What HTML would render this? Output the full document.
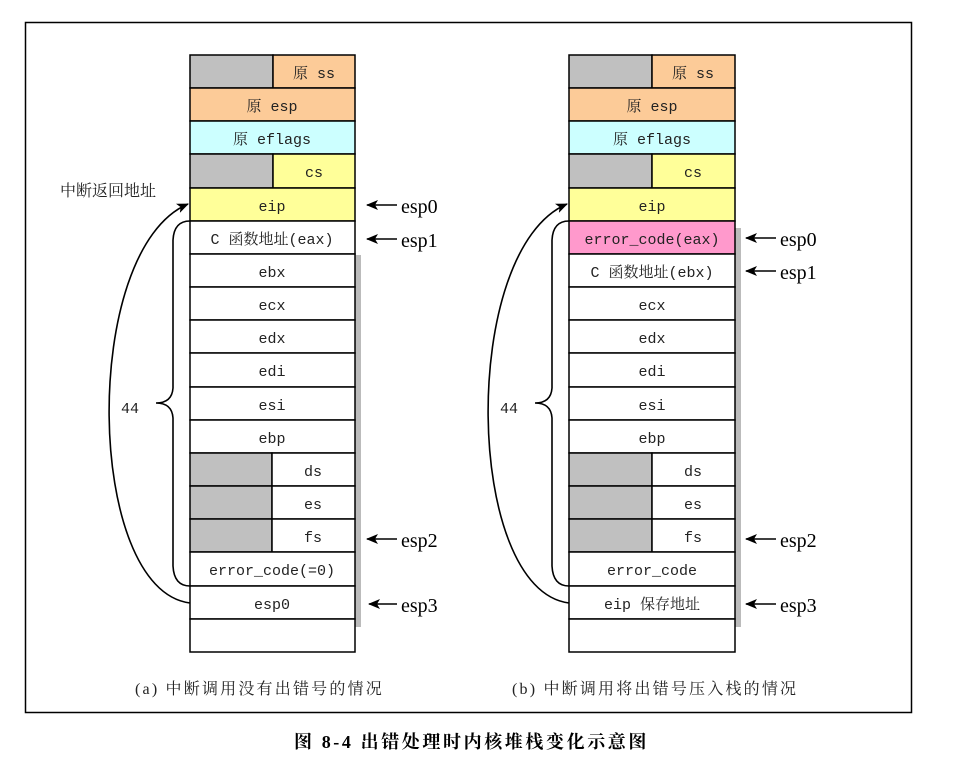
<!DOCTYPE html>
<html><head><meta charset="utf-8"><style>
html,body{margin:0;padding:0;background:#fff;}
svg text{font-family:"Liberation Mono","Noto Serif CJK SC",monospace;font-size:15px;}
.t{font-family:"Liberation Serif","Noto Serif CJK SC",serif;font-size:20px;}
.c{font-family:"Liberation Serif","Noto Serif CJK SC",serif;font-size:16px;letter-spacing:2.2px;}
</style></head><body>
<svg width="957" height="779" viewBox="0 0 957 779" xmlns="http://www.w3.org/2000/svg">
<defs><marker id="ah" markerWidth="12" markerHeight="10" refX="11" refY="5" orient="auto" markerUnits="userSpaceOnUse"><path d="M0,0 L12,5 L0,10 L3,5 z" fill="#000"/></marker></defs>
<rect x="25.5" y="22.5" width="886" height="690" fill="none" stroke="#000" stroke-width="1.5"/>
<rect x="355" y="255" width="6" height="372" fill="#bbb"/>
<rect x="735" y="228" width="6" height="399" fill="#bbb"/>
<g stroke="#000" stroke-width="1.5">
<rect x="190" y="55" width="83" height="33" fill="#c0c0c0"/><rect x="273" y="55" width="82" height="33" fill="#fccb98"/>
<rect x="190" y="88" width="165" height="33" fill="#fccb98"/>
<rect x="190" y="121" width="165" height="33" fill="#ccffff"/>
<rect x="190" y="154" width="83" height="34" fill="#c0c0c0"/><rect x="273" y="154" width="82" height="34" fill="#ffff99"/>
<rect x="190" y="188" width="165" height="33" fill="#ffff99"/>
<rect x="190" y="221" width="165" height="33" fill="#fff"/>
<rect x="190" y="254" width="165" height="33" fill="#fff"/>
<rect x="190" y="287" width="165" height="33" fill="#fff"/>
<rect x="190" y="320" width="165" height="33" fill="#fff"/>
<rect x="190" y="353" width="165" height="34" fill="#fff"/>
<rect x="190" y="387" width="165" height="33" fill="#fff"/>
<rect x="190" y="420" width="165" height="33" fill="#fff"/>
<rect x="190" y="453" width="82" height="33" fill="#c0c0c0"/><rect x="272" y="453" width="83" height="33" fill="#fff"/>
<rect x="190" y="486" width="82" height="33" fill="#c0c0c0"/><rect x="272" y="486" width="83" height="33" fill="#fff"/>
<rect x="190" y="519" width="82" height="33" fill="#c0c0c0"/><rect x="272" y="519" width="83" height="33" fill="#fff"/>
<rect x="190" y="552" width="165" height="34" fill="#fff"/>
<rect x="190" y="586" width="165" height="33" fill="#fff"/>
<rect x="190" y="619" width="165" height="33" fill="#fff"/>
<rect x="569" y="55" width="83" height="33" fill="#c0c0c0"/><rect x="652" y="55" width="83" height="33" fill="#fccb98"/>
<rect x="569" y="88" width="166" height="33" fill="#fccb98"/>
<rect x="569" y="121" width="166" height="33" fill="#ccffff"/>
<rect x="569" y="154" width="83" height="34" fill="#c0c0c0"/><rect x="652" y="154" width="83" height="34" fill="#ffff99"/>
<rect x="569" y="188" width="166" height="33" fill="#ffff99"/>
<rect x="569" y="221" width="166" height="33" fill="#ff99cc"/>
<rect x="569" y="254" width="166" height="33" fill="#fff"/>
<rect x="569" y="287" width="166" height="33" fill="#fff"/>
<rect x="569" y="320" width="166" height="33" fill="#fff"/>
<rect x="569" y="353" width="166" height="34" fill="#fff"/>
<rect x="569" y="387" width="166" height="33" fill="#fff"/>
<rect x="569" y="420" width="166" height="33" fill="#fff"/>
<rect x="569" y="453" width="83" height="33" fill="#c0c0c0"/><rect x="652" y="453" width="83" height="33" fill="#fff"/>
<rect x="569" y="486" width="83" height="33" fill="#c0c0c0"/><rect x="652" y="486" width="83" height="33" fill="#fff"/>
<rect x="569" y="519" width="83" height="33" fill="#c0c0c0"/><rect x="652" y="519" width="83" height="33" fill="#fff"/>
<rect x="569" y="552" width="166" height="34" fill="#fff"/>
<rect x="569" y="586" width="166" height="33" fill="#fff"/>
<rect x="569" y="619" width="166" height="33" fill="#fff"/>
</g>
<g fill="none" stroke="#000" stroke-width="1.6">
<path d="M190,221 Q174,221 173,240 L173,388 Q172,403 156,403 Q172,403 173,418 L173,566 Q174,586 190,586"/>
<path d="M190,603 C85,590 80,250 188,204" marker-end="url(#ah)"/>
<path d="M569,221 Q553,221 552,240 L552,388 Q551,403 535,403 Q551,403 552,418 L552,566 Q553,586 569,586"/>
<path d="M569,603 C464,590 459,250 567,204" marker-end="url(#ah)"/>
<g marker-end="url(#ah)">
<path d="M397,205 H367"/><path d="M397,239 H367"/><path d="M397,539 H367"/><path d="M397,604 H369"/>
<path d="M776,238 H746"/><path d="M776,271 H746"/><path d="M776,539 H746"/><path d="M776,604 H746"/>
</g>
</g>
<g text-anchor="middle" fill="#222">
<text x="314" y="78">原 ss</text><text x="272" y="111">原 esp</text><text x="272" y="144">原 eflags</text>
<text x="314" y="177">cs</text><text x="272" y="211">eip</text><text x="272" y="244">C 函数地址(eax)</text>
<text x="272" y="277">ebx</text><text x="272" y="310">ecx</text><text x="272" y="343">edx</text><text x="272" y="376">edi</text>
<text x="272" y="410">esi</text><text x="272" y="443">ebp</text>
<text x="313" y="476">ds</text><text x="313" y="509">es</text><text x="313" y="542">fs</text>
<text x="272" y="575">error_code(=0)</text><text x="272" y="609">esp0</text>
<text x="693" y="78">原 ss</text><text x="652" y="111">原 esp</text><text x="652" y="144">原 eflags</text>
<text x="693" y="177">cs</text><text x="652" y="211">eip</text><text x="652" y="244">error_code(eax)</text>
<text x="652" y="277">C 函数地址(ebx)</text><text x="652" y="310">ecx</text><text x="652" y="343">edx</text><text x="652" y="376">edi</text>
<text x="652" y="410">esi</text><text x="652" y="443">ebp</text>
<text x="693" y="476">ds</text><text x="693" y="509">es</text><text x="693" y="542">fs</text>
<text x="652" y="575">error_code</text><text x="652" y="609">eip 保存地址</text>
<text x="130" y="413">44</text><text x="509" y="413">44</text>
</g>
<text x="401" y="213" class="t">esp0</text><text x="401" y="247" class="t">esp1</text><text x="401" y="547" class="t">esp2</text><text x="401" y="612" class="t">esp3</text>
<text x="780" y="246" class="t">esp0</text><text x="780" y="279" class="t">esp1</text><text x="780" y="547" class="t">esp2</text><text x="780" y="612" class="t">esp3</text>
<text x="60" y="196" class="c" fill="#222" style="letter-spacing:0">中断返回地址</text>
<text x="135" y="694" class="c" fill="#222">(a) 中断调用没有出错号的情况</text>
<text x="512" y="694" class="c" fill="#222">(b) 中断调用将出错号压入栈的情况</text>
<text x="294" y="748" style="font-family:'Liberation Serif','Noto Serif CJK SC',serif;font-size:18px;font-weight:bold;letter-spacing:2.6px">图 8-4 出错处理时内核堆栈变化示意图</text>
</svg>
</body></html>
